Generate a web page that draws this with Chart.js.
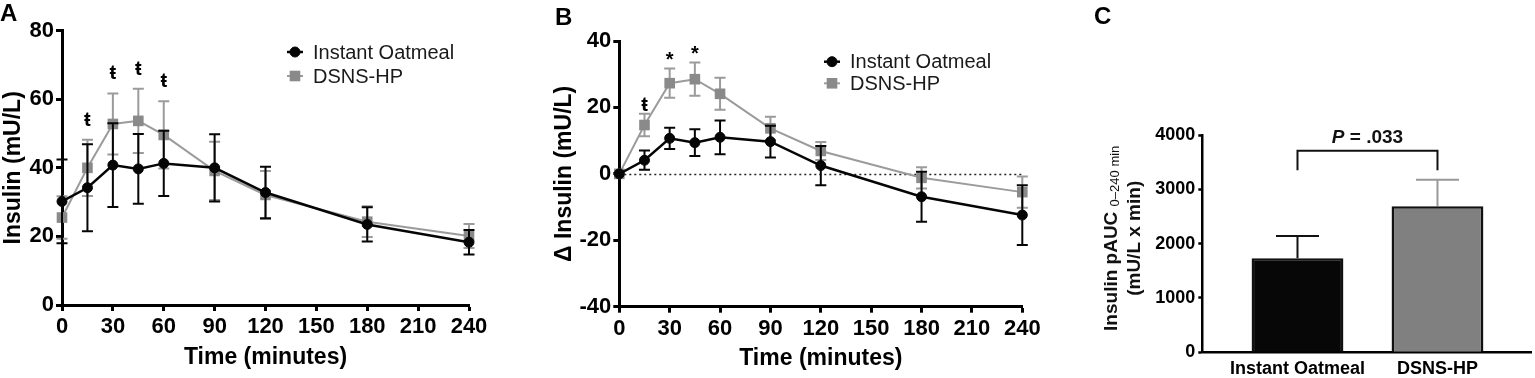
<!DOCTYPE html>
<html>
<head>
<meta charset="utf-8">
<script src="https://cdn.jsdelivr.net/npm/chart.js@4.4.1/dist/chart.umd.min.js"></script>
<style>
html,body{margin:0;padding:0;background:#fff;width:1535px;height:378px;overflow:hidden;position:relative;}
canvas{position:absolute;top:0;display:block;}
.lbl{position:absolute;font-family:'Liberation Sans',Arial,sans-serif;font-weight:bold;font-size:24px;line-height:24px;color:#000;}
</style>
</head>
<body>
<canvas id="cA" width="520" height="378" style="left:0;width:520px;height:378px"></canvas>
<canvas id="cB" width="540" height="378" style="left:520px;width:540px;height:378px"></canvas>
<canvas id="cC" width="495" height="378" style="left:1040px;width:495px;height:378px"></canvas>
<div class="lbl" style="left:0px;top:1px">A</div>
<div class="lbl" style="left:555px;top:5px">B</div>
<div class="lbl" style="left:1094px;top:4px">C</div>
<script>
// ---------- DATA ----------
const seriesNames = ['Instant Oatmeal', 'DSNS-HP'];
const times = [0, 15, 30, 45, 60, 90, 120, 180, 240];
const xTickStep = 30;

// Panel A: insulin (mU/L), mean and error
const oatmealA    = [30.2, 34.2, 40.8, 39.7, 41.3, 40.0, 32.8, 23.5, 18.3];
const oatmealAErr = [12.2, 12.7, 12.2, 10.2, 9.5, 9.8, 7.5, 5.0, 3.6];
const dsnsA       = [25.5, 40.0, 52.8, 53.7, 49.6, 39.1, 32.1, 24.3, 20.1];
const dsnsAErr    = [6.2, 8.2, 8.9, 9.4, 9.8, 8.5, 7.0, 4.5, 3.5];
const sigA        = ['', 'ŧ', 'ŧ', 'ŧ', 'ŧ', '', '', '', ''];
const yTicksA     = [0, 80, 20]; // min, max, step

// Panel B: delta insulin (mU/L)
const oatmealB    = [0, 4.1, 10.7, 9.4, 11.0, 9.7, 2.5, -6.9, -12.4];
const oatmealBErr = [0, 2.9, 3.2, 4.0, 5.1, 4.8, 5.9, 7.5, 9.0];
const dsnsB       = [0, 14.7, 27.3, 28.5, 24.1, 13.7, 6.9, -1.2, -5.5];
const dsnsBErr    = [0, 3.4, 4.4, 5.0, 4.8, 3.5, 2.7, 3.2, 4.7];
const sigB        = ['', 'ŧ', '*', '*', '', '', '', '', ''];
const yTicksB     = [-40, 40, 20];

// Panel C: insulin pAUC 0-240 min
const aucValues   = [1730, 2690];
const aucErr      = [410, 485];
const yTicksC     = [0, 4000, 1000];
const pLabel      = ['P', ' = .033'];
const bracketVals = [3710, 3350]; // top, foot of comparison bracket

// ---------- STYLE ----------
const FONT = "'Liberation Sans', Arial, Helvetica, sans-serif";
const BLACK = '#050505';
const GRAY_PT = '#8a8a8a';
const GRAY_LN = '#9b9b9b';

function axis(extra) {
  const a = {
    border: {display: true, color: '#000', width: 3},
    grid: {display: true, drawOnChartArea: false, drawTicks: true, tickLength: 6, tickWidth: 3, tickColor: '#000', color: '#000'},
    ticks: {color: '#000', font: {family: FONT, size: 22, weight: 'bold'}, padding: 2, maxRotation: 0, autoSkip: false}
  };
  return Object.assign(a, extra);
}
function title(text) {
  return {display: true, text: text, color: '#000', font: {family: FONT, size: 23, weight: 'bold'}, padding: 0};
}

const errorPlugin = {
  id: 'errs',
  beforeDatasetDraw(chart, args) {
    const ds = chart.data.datasets[args.index];
    if (!ds.errors) return;
    const ys = chart.scales.y;
    const ctx = chart.ctx;
    ctx.save();
    ctx.lineWidth = ds.errorWidth || 2;
    args.meta.data.forEach((el, i) => {
      const e = ds.errors[i];
      if (!e) return;
      const v = ds.data[i].y;
      const x = el.x;
      const hi = ys.getPixelForValue(v + e);
      const lo = ds.oneSided ? ys.getPixelForValue(v) : ys.getPixelForValue(v - e);
      const c = ds.capHalf;
      ctx.strokeStyle = Array.isArray(ds.errorColor) ? ds.errorColor[i] : ds.errorColor;
      ctx.beginPath();
      ctx.moveTo(x, hi); ctx.lineTo(x, lo);
      ctx.moveTo(x - c, hi); ctx.lineTo(x + c, hi);
      if (!ds.oneSided) { ctx.moveTo(x - c, lo); ctx.lineTo(x + c, lo); }
      ctx.stroke();
    });
    ctx.restore();
  }
};

function legendPlugin(cfg) {
  return {
    id: 'lg',
    afterDraw(chart) {
      const ctx = chart.ctx;
      chart.data.datasets.forEach((ds, i) => {
        const y = cfg.y + i * cfg.dy;
        ctx.save();
        ctx.strokeStyle = ds.borderColor;
        ctx.lineWidth = ds.borderWidth;
        ctx.beginPath(); ctx.moveTo(cfg.x - 8, y); ctx.lineTo(cfg.x + 8, y); ctx.stroke();
        ctx.fillStyle = ds.pointBackgroundColor;
        ctx.strokeStyle = ds.pointBorderColor;
        ctx.lineWidth = ds.pointBorderWidth;
        Chart.helpers.drawPoint(ctx, {pointStyle: ds.pointStyle, rotation: 0, radius: ds.pointRadius, borderWidth: ds.pointBorderWidth}, cfg.x, y);
        ctx.fillStyle = '#1a1a1a';
        ctx.font = '20px ' + FONT;
        ctx.textAlign = 'left';
        ctx.textBaseline = 'middle';
        ctx.fillText(ds.label, cfg.tx, y + 1);
        ctx.restore();
      });
    }
  };
}

function sigPlugin(sig, off) {
  return {
    id: 'sig',
    afterDatasetsDraw(chart) {
      const xs = chart.scales.x, ys = chart.scales.y, ctx = chart.ctx;
      ctx.save();
      ctx.font = 'bold 20px ' + FONT;
      ctx.fillStyle = '#000';
      ctx.textAlign = 'center';
      ctx.textBaseline = 'alphabetic';
      sig.forEach((s, i) => {
        if (!s) return;
        let top = Infinity;
        chart.data.datasets.forEach(ds => {
          top = Math.min(top, ys.getPixelForValue(ds.data[i].y + ds.errors[i]));
        });
        ctx.fillText(s, xs.getPixelForValue(times[i]), top - off);
      });
      ctx.restore();
    }
  };
}

const zeroLinePlugin = {
  id: 'zero',
  beforeDatasetsDraw(chart) {
    const ctx = chart.ctx, ys = chart.scales.y, a = chart.chartArea;
    const y = Math.round(ys.getPixelForValue(0)) + 0.5;
    ctx.save();
    ctx.strokeStyle = '#222';
    ctx.lineWidth = 1.5;
    ctx.setLineDash([2, 3]);
    ctx.beginPath(); ctx.moveTo(a.left, y); ctx.lineTo(a.right, y); ctx.stroke();
    ctx.restore();
  }
};

function lineDatasets(oat, oatErr, dsns, dsnsErr) {
  return [
    {
      label: seriesNames[0],
      data: times.map((t, i) => ({x: t, y: oat[i]})),
      errors: oatErr, errorColor: BLACK, errorWidth: 2, capHalf: 5.5,
      borderColor: BLACK, borderWidth: 2.5,
      pointStyle: 'circle', pointRadius: 5, pointBorderWidth: 1,
      pointBackgroundColor: BLACK, pointBorderColor: BLACK,
      tension: 0, clip: false
    },
    {
      label: seriesNames[1],
      data: times.map((t, i) => ({x: t, y: dsns[i]})),
      errors: dsnsErr, errorColor: GRAY_LN, errorWidth: 2, capHalf: 5.5,
      borderColor: GRAY_LN, borderWidth: 2,
      pointStyle: 'rect', pointRadius: 7.5, pointBorderWidth: 0,
      pointBackgroundColor: GRAY_PT, pointBorderColor: GRAY_PT,
      tension: 0, clip: false
    }
  ];
}

function lineChart(id, oat, oatErr, dsns, dsnsErr, yT, yTitle, L, extraPlugins) {
  return new Chart(document.getElementById(id), {
    type: 'line',
    data: {datasets: lineDatasets(oat, oatErr, dsns, dsnsErr)},
    options: {
      responsive: false, animation: false, events: [],
      layout: {padding: {left: L.padLeft, top: L.top, right: L.right, bottom: L.padBottom}},
      plugins: {legend: {display: false}, tooltip: {enabled: false}},
      scales: {
        x: axis({
          type: 'linear', min: times[0], max: times[times.length - 1],
          title: title('Time (minutes)'),
          afterFit: s => { s.height = L.xH; }
        }),
        y: axis({
          type: 'linear', min: yT[0], max: yT[1],
          title: title(yTitle),
          afterFit: s => { s.width = L.yW; }
        })
      }
    },
    plugins: [errorPlugin].concat(extraPlugins)
  });
}

function setSteps(chart, yStep) {
  chart.options.scales.x.ticks.stepSize = xTickStep;
  chart.options.scales.y.ticks.stepSize = yStep;
  chart.options.scales.x.ticks.padding = 3;
  chart.update('none');
}

const chartA = lineChart('cA', oatmealA, oatmealAErr, dsnsA, dsnsAErr, yTicksA, 'Insulin (mU/L)',
  {padLeft: 0, top: 30.7, right: 51, padBottom: 6.8, xH: 66.2, yW: 62},
  [legendPlugin({x: 295, tx: 313, y: 52, dy: 24}), sigPlugin(sigA, 14)]);
setSteps(chartA, yTicksA[2]);

const chartB = lineChart('cB', oatmealB, oatmealBErr, dsnsB, dsnsBErr, yTicksB, 'Δ Insulin (mU/L)',
  {padLeft: 31, top: 41, right: 37.7, padBottom: 5.8, xH: 65.5, yW: 68.3},
  [zeroLinePlugin, legendPlugin({x: 312, tx: 330, y: 61.7, dy: 21.6}), sigPlugin(sigB, 3)]);
setSteps(chartB, yTicksB[2]);

// ---------- Panel C ----------
const cPlugin = {
  id: 'cdecor',
  afterDatasetsDraw(chart) {
    const ctx = chart.ctx, xs = chart.scales.x, ys = chart.scales.y;
    const x0 = xs.getPixelForValue(0), x1 = xs.getPixelForValue(1);
    const yt = ys.getPixelForValue(bracketVals[0]), yb = ys.getPixelForValue(bracketVals[1]);
    ctx.save();
    ctx.strokeStyle = '#111';
    ctx.lineWidth = 2;
    ctx.beginPath();
    ctx.moveTo(x0, yb); ctx.lineTo(x0, yt); ctx.lineTo(x1, yt); ctx.lineTo(x1, yb);
    ctx.stroke();
    ctx.fillStyle = '#111';
    ctx.textBaseline = 'alphabetic';
    const fI = 'italic bold 19px ' + FONT, fB = 'bold 19px ' + FONT;
    ctx.font = fI; const w1 = ctx.measureText(pLabel[0]).width;
    ctx.font = fB; const w2 = ctx.measureText(pLabel[1]).width;
    const sx = (x0 + x1) / 2 - (w1 + w2) / 2;
    const by = yt - 8;
    ctx.font = fI; ctx.textAlign = 'left'; ctx.fillText(pLabel[0], sx, by);
    ctx.font = fB; ctx.fillText(pLabel[1], sx + w1, by);
    ctx.restore();
  },
  afterDraw(chart) {
    const ctx = chart.ctx;
    const cy = 238.3;
    ctx.save();
    ctx.fillStyle = '#111';
    ctx.translate(71.7, cy);
    ctx.rotate(-Math.PI / 2);
    ctx.textBaseline = 'middle';
    const main = 'Insulin pAUC ', sub = '0–240 min', l2 = '(mU/L x min)';
    const fM = 'bold 19px ' + FONT, fS = '13px ' + FONT;
    ctx.font = fM; const wm = ctx.measureText(main).width;
    ctx.font = fS; const ws = ctx.measureText(sub).width;
    const start = -(wm + ws) / 2;
    ctx.font = fM; ctx.textAlign = 'left'; ctx.fillText(main, start, 0);
    ctx.font = fS; ctx.fillText(sub, start + wm, 4);
    ctx.font = fM; ctx.textAlign = 'center'; ctx.fillText(l2, 0, 23.3);
    ctx.restore();
  }
};

const chartC = new Chart(document.getElementById('cC'), {
  type: 'bar',
  data: {
    datasets: [{
      label: 'pAUC',
      data: aucValues.map((v, i) => ({x: i, y: v})),
      errors: aucErr, errorColor: ['#111', '#999'], errorWidth: 2, capHalf: 21.5, oneSided: true,
      backgroundColor: ['#070707', '#808080'],
      borderColor: '#111', borderWidth: 2.5,
      barPercentage: 0.82, categoryPercentage: 0.8
    }]
  },
  options: {
    responsive: false, animation: false, events: [],
    layout: {padding: {left: 0, top: 135, right: 3.3, bottom: 0}},
    plugins: {legend: {display: false}, tooltip: {enabled: false}},
    scales: {
      x: {
        type: 'linear', offset: false, min: -0.68, max: 1.673,
        border: {display: true, color: '#000', width: 2.5},
        grid: {display: true, drawOnChartArea: false, drawTicks: false, color: 'rgba(0,0,0,0)'},
        ticks: {
          stepSize: 1, includeBounds: false, color: '#000', padding: 6, maxRotation: 0, autoSkip: false,
          font: {family: FONT, size: 18, weight: 'bold'},
          callback: v => (Number.isInteger(v) && seriesNames[v] !== undefined) ? seriesNames[v] : ''
        },
        afterFit: s => { s.height = 25.7; }
      },
      y: {
        type: 'linear', min: yTicksC[0], max: yTicksC[1],
        border: {display: true, color: '#000', width: 2.5},
        grid: {display: true, drawOnChartArea: false, drawTicks: true, tickLength: 4, tickWidth: 2.5, tickColor: '#000'},
        ticks: {stepSize: yTicksC[2], color: '#000', padding: 3, font: {family: FONT, size: 18, weight: 'bold'},
                callback: v => String(v)},
        afterFit: s => { s.width = 162.3; }
      }
    }
  },
  plugins: [errorPlugin, cPlugin]
});
</script>
</body>
</html>
